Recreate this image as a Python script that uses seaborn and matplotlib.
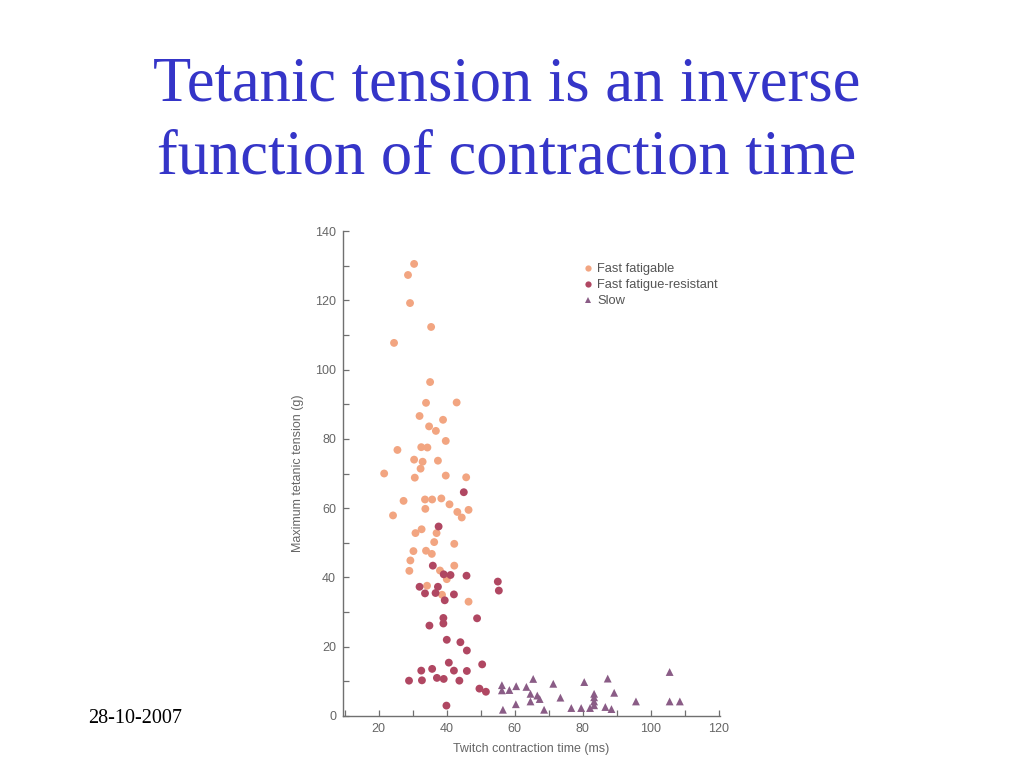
import matplotlib
matplotlib.use("Agg")
import matplotlib.pyplot as plt
from matplotlib.ticker import MultipleLocator
from matplotlib.lines import Line2D
import seaborn as sns
import pandas as pd

# ---- data ----
categories = ["Fast fatigable", "Fast fatigue-resistant", "Slow"]

ff_x = [30.4, 28.6, 29.2, 35.4, 24.5, 35.1, 33.9, 42.9, 32.0, 38.9, 34.8, 36.8, 39.7,
        25.5, 32.5, 34.3, 30.4, 32.9, 37.4, 32.3, 21.6, 30.6, 39.7, 45.7, 27.3, 33.6,
        35.7, 38.4, 40.8, 33.7, 46.4, 43.1, 44.4, 24.2, 32.6, 30.8, 37.0, 36.3, 42.2,
        30.2, 33.9, 35.6, 29.3, 42.2, 29.0, 38.0, 40.0, 34.2, 38.6, 46.4]
ff_y = [130.5, 127.3, 119.2, 112.3, 107.7, 96.4, 90.4, 90.5, 86.6, 85.5, 83.6, 82.3, 79.4,
        76.8, 77.6, 77.5, 74.0, 73.4, 73.7, 71.4, 70.0, 68.8, 69.4, 68.9, 62.1, 62.5,
        62.5, 62.8, 61.1, 59.8, 59.5, 58.9, 57.3, 57.9, 53.9, 52.8, 52.8, 50.2, 49.7,
        47.6, 47.7, 46.8, 44.9, 43.4, 41.9, 42.0, 39.5, 37.6, 35.0, 33.0]

fr_x = [45.0, 37.6, 35.9, 39.1, 41.1, 45.8, 55.0, 55.3, 32.0, 37.4, 33.6, 36.7, 42.1,
        39.4, 39.0, 48.9, 39.0, 34.9, 40.0, 44.0, 45.9, 40.6, 50.4, 32.5, 35.7, 42.1,
        45.9, 28.9, 32.7, 37.1, 39.1, 43.7, 49.6, 51.5, 39.9]
fr_y = [64.6, 54.7, 43.4, 40.9, 40.7, 40.5, 38.8, 36.2, 37.3, 37.3, 35.4, 35.5, 35.1,
        33.4, 28.3, 28.2, 26.7, 26.1, 22.0, 21.3, 18.9, 15.4, 14.9, 13.1, 13.6, 13.1,
        13.0, 10.2, 10.3, 11.0, 10.7, 10.2, 7.9, 7.0, 3.0]

slow_x = [105.5, 65.4, 87.3, 56.2, 60.4, 63.4, 71.3, 80.4, 56.2, 58.4, 64.6, 66.6, 67.3,
          73.4, 83.3, 83.3, 89.2, 64.6, 83.3, 83.3, 95.6, 105.5, 108.5, 60.3, 56.5, 68.6,
          76.6, 79.5, 82.1, 86.6, 88.4]
slow_y = [12.7, 10.7, 10.8, 8.9, 8.6, 8.4, 9.3, 9.8, 7.4, 7.5, 6.4, 5.9, 4.9,
          5.3, 6.4, 5.4, 6.7, 4.2, 4.2, 3.1, 4.2, 4.2, 4.2, 3.4, 1.8, 1.8,
          2.3, 2.3, 2.3, 2.6, 2.0]

x_ticks = [20, 40, 60, 80, 100, 120]
y_ticks = [0, 20, 40, 60, 80, 100, 120, 140]

df = pd.DataFrame({
    "time": ff_x + fr_x + slow_x,
    "tension": ff_y + fr_y + slow_y,
    "type": [categories[0]] * len(ff_x) + [categories[1]] * len(fr_x) + [categories[2]] * len(slow_x),
})

palette = {categories[0]: "#F2A581", categories[1]: "#B04762", categories[2]: "#8A5C86"}
markers = {categories[0]: "o", categories[1]: "o", categories[2]: "^"}

sns.set_style("white")
plt.rcParams["font.family"] = ["Liberation Sans", "DejaVu Sans"]

fig = plt.figure(figsize=(10.24, 7.68), dpi=100)
ax = fig.add_axes([343 / 1024, 1 - 716 / 768, (720 - 343) / 1024, (716 - 231) / 768])

sns.scatterplot(data=df, x="time", y="tension", hue="type", style="type",
                palette=palette, markers=markers, s=32, edgecolor="none",
                linewidth=0, legend=False, ax=ax)

ax.set_xlim(9.5, 120.3)
ax.set_ylim(0, 140)
ax.set_xticks(x_ticks)
ax.set_yticks(y_ticks)
ax.xaxis.set_minor_locator(MultipleLocator(10))
ax.yaxis.set_minor_locator(MultipleLocator(10))
for side in ["top", "right"]:
    ax.spines[side].set_visible(False)
for side in ["left", "bottom"]:
    ax.spines[side].set_color("#707070")
    ax.spines[side].set_linewidth(1.0)
ax.tick_params(which="both", direction="in", length=4, width=0.9, color="#707070",
               labelcolor="#666666", labelsize=9)
ax.tick_params(axis="x", which="major", pad=5)
ax.tick_params(axis="y", which="major", pad=5)
ax.tick_params(which="both", left=True, bottom=True)
ax.set_xlabel("Twitch contraction time (ms)", color="#666666", fontsize=9, labelpad=6)
ax.set_ylabel("Maximum tetanic tension (g)", color="#666666", fontsize=9, labelpad=8)
ax.set_facecolor("white")

handles = [Line2D([], [], linestyle="none", marker=markers[c], color=palette[c],
                  markersize=4.5, markeredgewidth=0) for c in categories]
leg = ax.legend(handles, categories, loc="upper left", bbox_to_anchor=(0.623, 0.947),
                frameon=False, fontsize=9.3, handlelength=0.6, handletextpad=0.4,
                labelspacing=0.3, borderpad=0)
for t in leg.get_texts():
    t.set_color("#555555")

fig.text(0.495, 0.841, "Tetanic tension is an inverse\nfunction of contraction time",
         ha="center", va="center", color="#3535C8", fontsize=45,
         family=["Liberation Serif", "DejaVu Serif"], linespacing=1.32)
fig.text(0.086, 0.065, "28-10-2007", ha="left", va="center", color="black",
         fontsize=14.5, family=["Liberation Serif", "DejaVu Serif"])

fig.savefig("out.png", dpi=100, facecolor="white")
